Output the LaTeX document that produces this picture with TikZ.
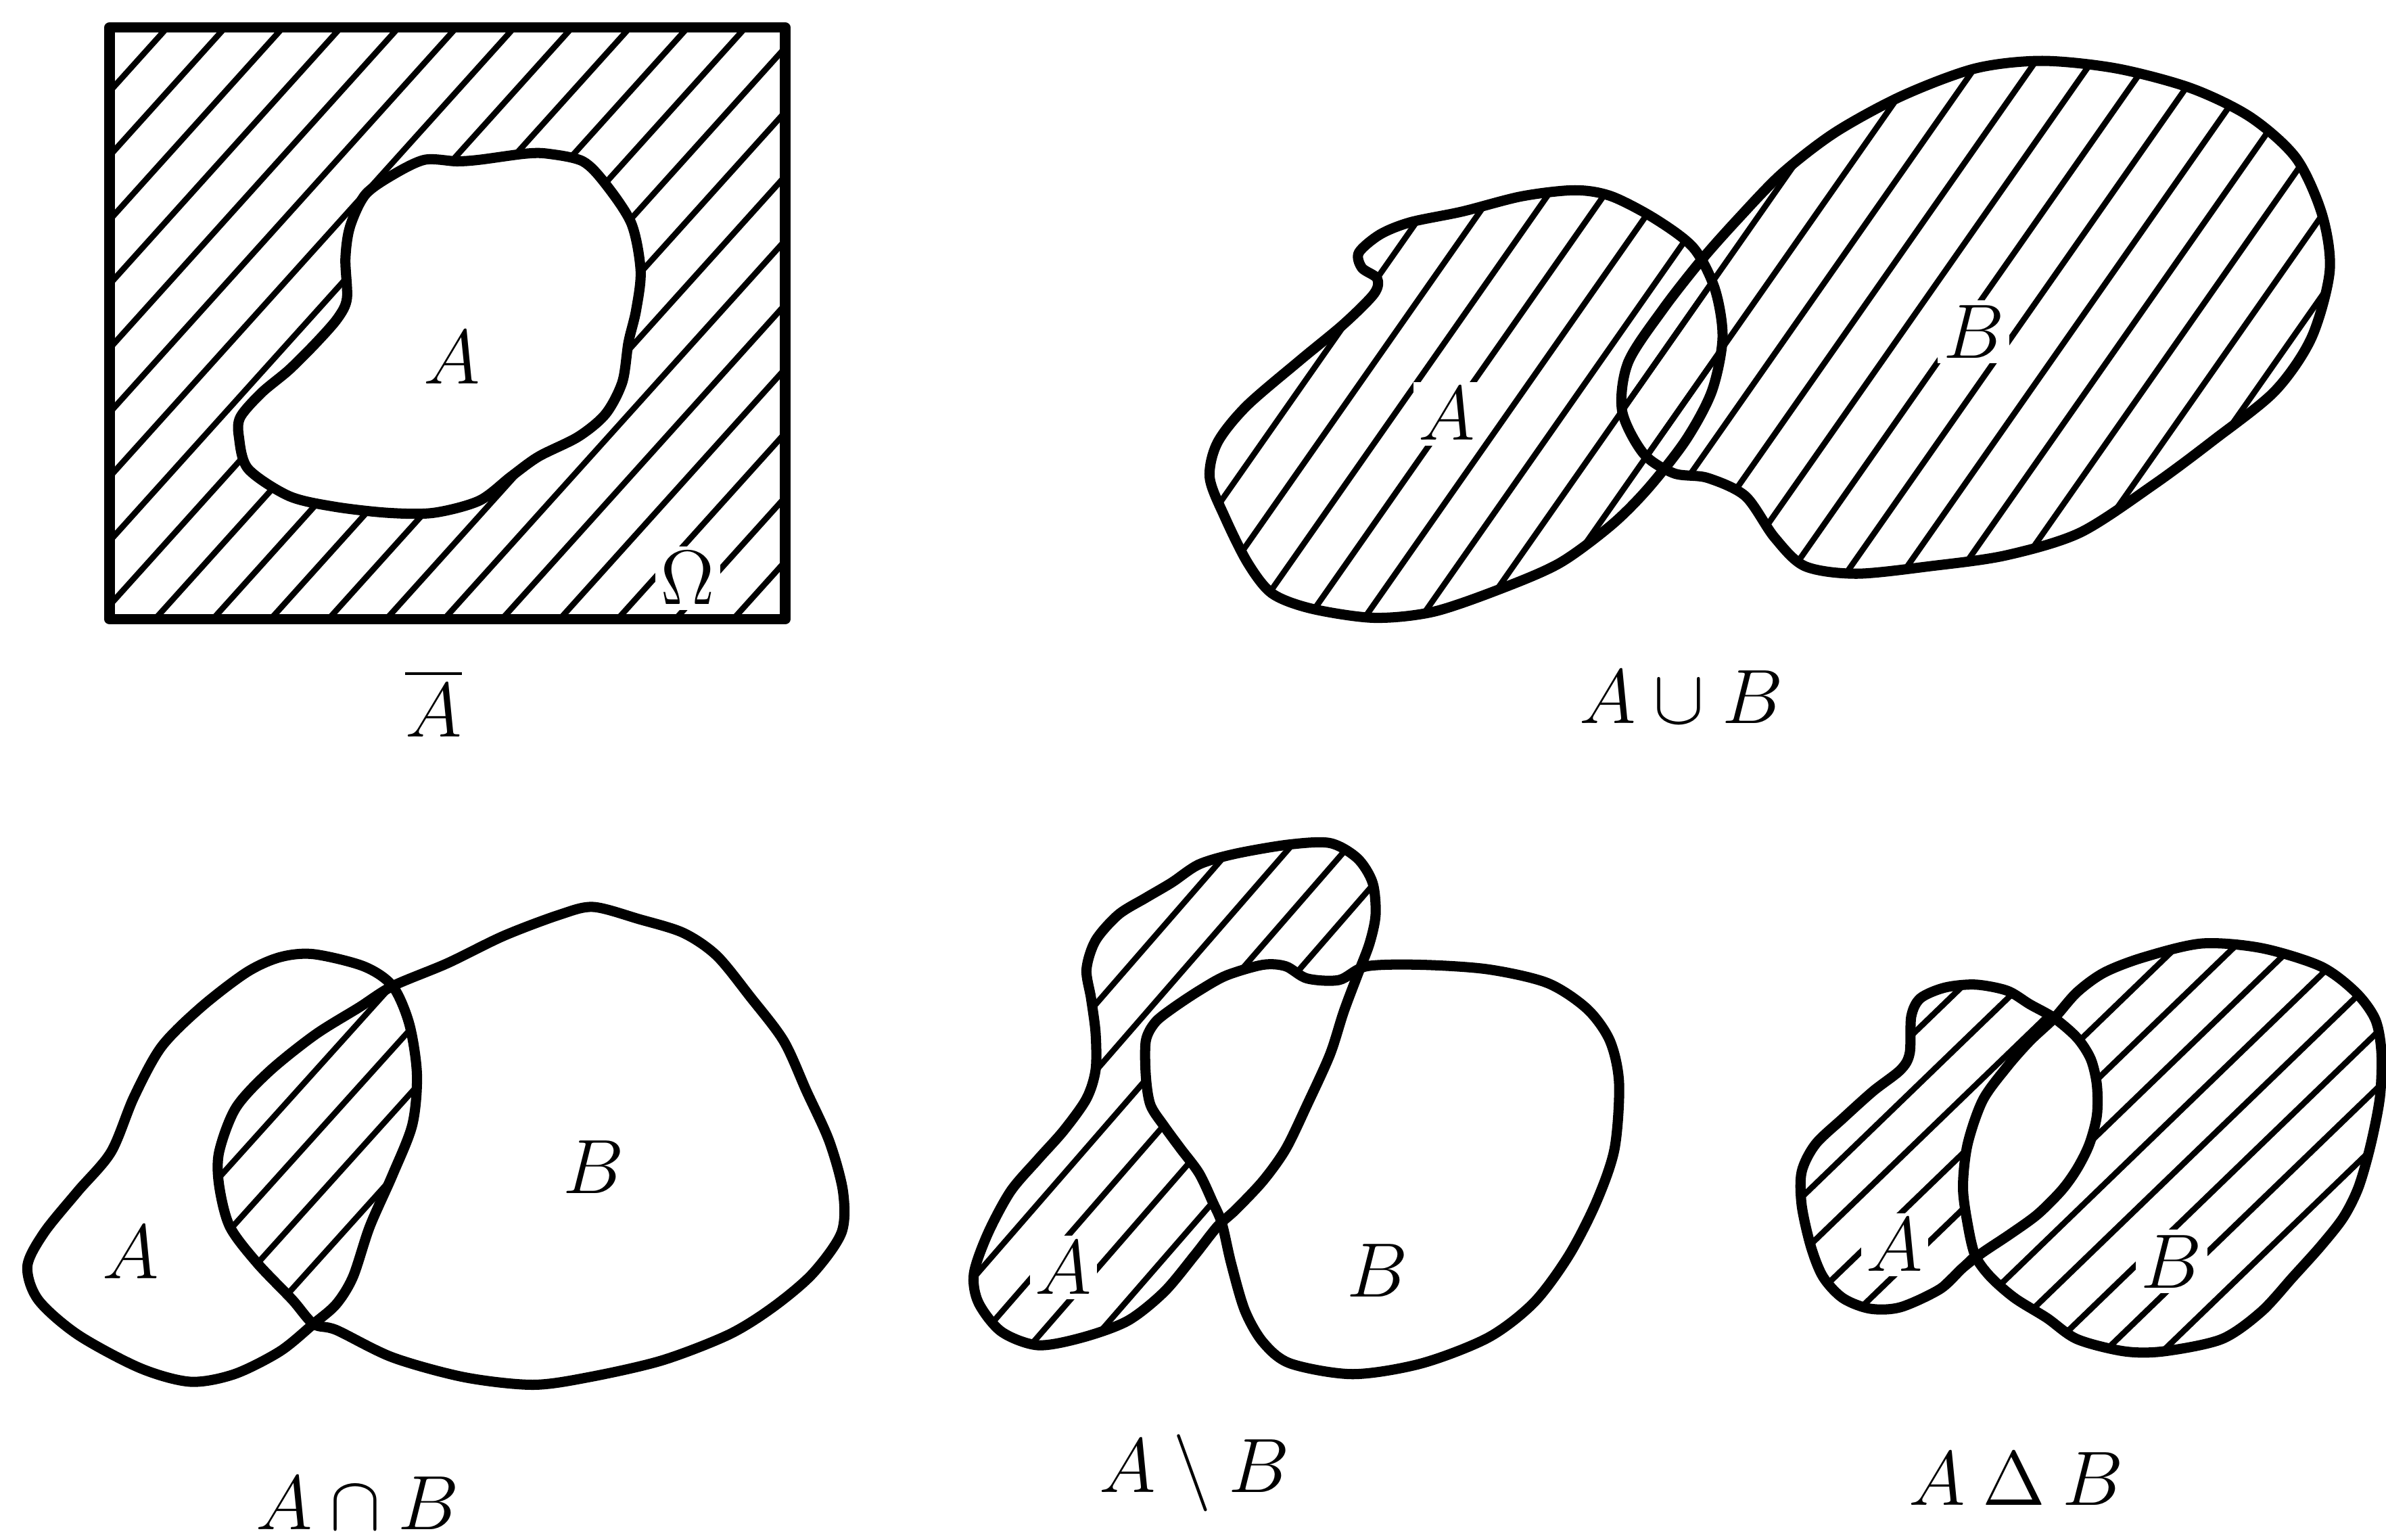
\documentclass[tikz,border=0pt]{standalone}
\usepackage{amsmath,amssymb}
\newcommand{\hatchfill}[6]{%
  \pgfmathsetmacro{\hatchCot}{cot(#6)}%
  \pgfmathsetmacro{\hatchH}{#4-(#3)}%
  \pgfmathsetmacro{\hatchDX}{\hatchH*\hatchCot}%
  \pgfmathsetmacro{\hatchA}{#1-\hatchDX}%
  \pgfmathsetmacro{\hatchB}{\hatchA+#5}%
  \foreach \hatchX in {\hatchA,\hatchB,...,#2}{%
    \draw[hatchline] (\hatchX,#4) -- ++(\hatchDX,-\hatchH);}%
}
\def\shpAone{plot[smooth cycle] coordinates {(279,105) (300,106) (315,105) (345,101) (360,101) (383,106) (398,121) (415,147) (421,178) (418,204) (413,225) (409,251) (398,272) (380,287) (354,300) (336,313) (315,329) (285,337) (255,337) (220,333) (190,326) (163,308) (157,287) (158,274) (172,258) (190,243) (208,225) (222,209) (228,196) (227,170) (230,149) (240,128) (258,115)}}
\def\shpAtwo{plot[smooth cycle] coordinates {(907,154) (927,146) (961,139) (1000,129) (1035,125) (1059,129) (1088,144) (1113,163) (1127,190) (1132,222) (1125,257) (1108,289) (1083,321) (1059,345) (1025,370) (986,387) (942,402) (903,406) (862,400) (836,390) (820,370) (805,340) (795,314) (800,291) (819,267) (854,237) (883,213) (903,193) (905,183) (895,176) (893,166)}}
\def\shpBtwo{plot[smooth cycle] coordinates {(1142,144) (1171,114) (1206,87) (1250,63) (1298,45) (1342,40) (1391,45) (1440,58) (1479,77) (1509,104) (1526,141) (1531,178) (1519,222) (1495,257) (1455,289) (1416,318) (1367,350) (1318,365) (1269,372) (1220,377) (1186,372) (1166,353) (1147,326) (1122,314) (1100,311) (1080,298) (1066,270) (1070,238) (1093,203) (1118,171)}}
\def\shpAthree{plot[smooth cycle] coordinates {(206,627) (239,635) (258,648) (269,673) (274,706) (271,739) (258,772) (243,806) (232,839) (221,857) (206,870) (184,888) (154,903) (125,908) (92,899) (51,877) (25,854) (18,832) (29,810) (51,783) (73,757) (88,721) (106,688) (132,662) (162,639) (184,629)}}
\def\shpBthree{plot[smooth cycle] coordinates {(258,648) (294,633) (331,615) (368,601) (390,596) (420,604) (449,613) (471,628) (493,655) (515,684) (530,717) (545,750) (554,783) (553,810) (534,837) (508,859) (479,877) (435,894) (387,905) (350,910) (305,905) (258,892) (221,874) (206,870) (192,854) (169,830) (151,806) (144,779) (144,757) (155,728) (177,704) (207,680) (236,662)}}
\def\shpAfour{plot[smooth cycle] coordinates {(874,554) (892,564) (902,580) (904,601) (900,620) (892,641) (883,665) (874,693) (859,726) (845,755) (830,776) (812,795) (800,806) (785,825) (765,849) (741,868) (711,879) (682,884) (658,875) (643,856) (640,837) (649,811) (664,783) (682,762) (699,743) (714,722) (720,703) (720,679) (717,656) (714,637) (720,618) (735,601) (753,590) (770,580) (788,568) (812,561) (847,555)}}
\def\shpBfour{plot[smooth cycle] coordinates {(898,635) (934,634) (978,637) (1017,646) (1043,663) (1058,684) (1064,712) (1061,755) (1049,790) (1031,825) (1008,856) (978,879) (934,896) (889,903) (848,896) (830,882) (818,861) (809,830) (803,804) (797,790) (788,771) (776,755) (765,740) (756,726) (753,707) (753,684) (759,672) (770,663) (788,651) (806,641) (830,634) (845,635) (859,643) (880,644)}}
\def\shpAfive{plot[smooth cycle] coordinates {(1255,692) (1256,668) (1262,656) (1278,649) (1298,647) (1319,651) (1334,660) (1350,669) (1365,682) (1374,696) (1378,713) (1378,733) (1373,752) (1365,768) (1355,782) (1339,798) (1321,811) (1303,823) (1290,833) (1275,847) (1249,859) (1229,860) (1211,853) (1198,839) (1190,819) (1184,792) (1184,770) (1193,752) (1211,735) (1231,717) (1249,703)}}
\def\shpBfive{plot[smooth cycle] coordinates {(1350,669) (1365,652) (1383,639) (1409,629) (1447,620) (1486,623) (1525,635) (1548,652) (1561,670) (1565,692) (1564,721) (1558,752) (1550,780) (1540,800) (1525,819) (1507,839) (1486,862) (1460,880) (1422,888) (1396,888) (1365,880) (1345,866) (1324,853) (1308,839) (1298,825) (1293,804) (1290,780) (1293,752) (1303,723) (1319,701) (1334,684)}}
\begin{document}
\begin{tikzpicture}[x=0.1mm,y=-0.1mm,
  outline/.style={line width=1.9pt, line join=round},
  hatchline/.style={line width=1.1pt},
  lbl/.style={font=\fontsize{14}{16}\selectfont, inner sep=1pt},
  lblw/.style={lbl, fill=white}]
\useasboundingbox (0,0) rectangle (1568,1012);
% ---------- panel 1: complement ----------
\begin{scope}
  \clip (72,18) rectangle (516,407);
  \hatchfill{72}{516}{18}{407}{38}{48}
\end{scope}
\fill[white] \shpAone;
\node[lbl] (p1A) at (297,235) {$A$};
\node[lblw] (p1O) at (452,380) {$\Omega$};
\draw[outline] (72,18) rectangle (516,407);
\draw[outline] \shpAone;
\node[lbl] (cap1) at (285,462) {$\overline{A}$};
% ---------- panel 2: union ----------
\begin{scope}
  \clip \shpAtwo;
  \hatchfill{790}{1540}{30}{415}{37}{55}
\end{scope}
\begin{scope}
  \clip \shpBtwo;
  \hatchfill{790}{1540}{30}{415}{37}{55}
\end{scope}
\node[lblw] (p2A) at (951,272) {$A$};
\node[lblw] (p2B) at (1297,218) {$B$};
\draw[outline] \shpAtwo;
\draw[outline] \shpBtwo;
\node[lbl] (cap2) at (1105,458) {$A\cup B$};
% ---------- panel 3: intersection ----------
\begin{scope}
  \clip \shpAthree;
  \clip \shpBthree;
  \hatchfill{10}{560}{585}{915}{38}{48}
\end{scope}
\node[lbl] (p3A) at (86,823) {$A$};
\node[lbl] (p3B) at (390,767) {$B$};
\draw[outline] \shpAthree;
\draw[outline] \shpBthree;
\node[lbl] (cap3) at (235,988) {$A\cap B$};
% ---------- panel 4: difference ----------
\begin{scope}
  \clip \shpAfour;
  \hatchfill{630}{1070}{545}{905}{38}{49}
\end{scope}
\fill[white] \shpBfour;
\node[lblw] (p4A) at (699,833) {$A$};
\node[lbl] (p4B) at (905,835) {$B$};
\draw[outline] \shpAfour;
\draw[outline] \shpBfour;
\node[lbl] (cap4) at (785,968) {$A\setminus B$};
% ---------- panel 5: symmetric difference ----------
\begin{scope}
  \clip \shpAfive;
  \hatchfill{1175}{1568}{612}{900}{38}{44}
\end{scope}
\begin{scope}
  \clip \shpBfive;
  \hatchfill{1175}{1568}{612}{900}{38}{44}
\end{scope}
\begin{scope}
  \clip \shpAfive;
  \fill[white] \shpBfive;
\end{scope}
\node[lblw] (p5A) at (1245,818) {$A$};
\node[lblw] (p5B) at (1427,829) {$B$};
\draw[outline] \shpAfive;
\draw[outline] \shpBfive;
\node[lbl] (cap5) at (1325,972) {$A\mathbin{\Delta} B$};
\end{tikzpicture}
\end{document}
